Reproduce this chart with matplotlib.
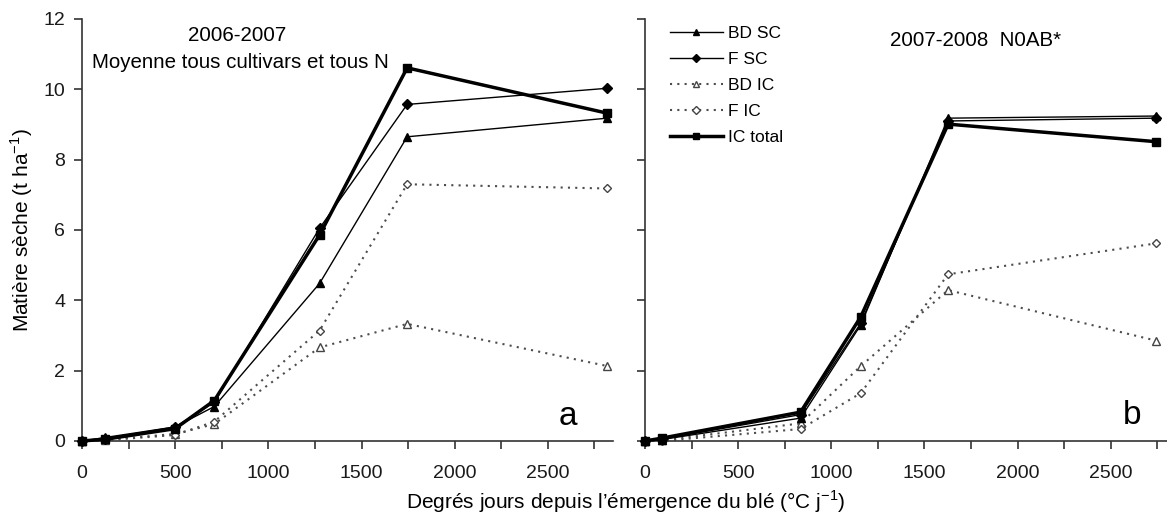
import numpy as np
import matplotlib.pyplot as plt
from matplotlib.ticker import MultipleLocator

plt.rcParams['font.family'] = ['Liberation Sans', 'DejaVu Sans']
plt.rcParams['mathtext.fontset'] = 'custom'
plt.rcParams['mathtext.rm'] = 'Liberation Sans'

# --- Données 2006-2007 (a) ---
x_a = [0, 125, 500, 710, 1275, 1745, 2820]
bd_sc_a = [0, 0.10, 0.40, 0.98, 4.48, 8.65, 9.18]
f_sc_a = [0, 0.07, 0.40, 1.10, 6.05, 9.57, 10.03]
bd_ic_a = [0, 0.03, 0.20, 0.48, 2.66, 3.33, 2.13]
f_ic_a = [0, 0.02, 0.17, 0.55, 3.14, 7.30, 7.18]
ic_total_a = [0, 0.05, 0.35, 1.15, 5.86, 10.61, 9.32]

# --- Données 2007-2008 N0AB* (b) ---
x_b = [0, 90, 835, 1158, 1627, 2745]
bd_sc_b = [0, 0.04, 0.65, 3.30, 9.18, 9.24]
f_sc_b = [0, 0.05, 0.75, 3.35, 9.10, 9.18]
bd_ic_b = [0, 0.02, 0.50, 2.13, 4.29, 2.85]
f_ic_b = [0, 0.00, 0.34, 1.36, 4.74, 5.62]
ic_total_b = [0, 0.08, 0.82, 3.53, 9.01, 8.51]

labels = ['BD SC', 'F SC', 'BD IC', 'F IC', 'IC total']


def draw(ax, x, series):
    styles = [
        dict(color='black', lw=1.0, ls='-', marker='^', ms=6, mfc='black'),
        dict(color='black', lw=1.0, ls='-', marker='D', ms=5, mfc='black'),
        dict(color='#4d4d4d', lw=1.5, ls=(0, (1, 2.5)), marker='^', ms=6, mfc='white', mec='#444444', mew=1.0),
        dict(color='#4d4d4d', lw=1.5, ls=(0, (1, 2.5)), marker='D', ms=4.5, mfc='white', mec='#444444', mew=1.0),
        dict(color='black', lw=2.5, ls='-', marker='s', ms=6, mfc='black'),
    ]
    lines = []
    for y, lab, st, z in zip(series, labels, styles, [3, 3, 2, 2, 4]):
        l, = ax.plot(x, y, label=lab, zorder=z, clip_on=False, **st)
        lines.append(l)
    ax.set_xlim(0, 2850)
    ax.set_ylim(0, 12)
    ax.xaxis.set_major_locator(MultipleLocator(500))
    ax.xaxis.set_minor_locator(MultipleLocator(250))
    ax.yaxis.set_major_locator(MultipleLocator(2))
    for s in ['top', 'right']:
        ax.spines[s].set_visible(False)
    for s in ['left', 'bottom']:
        ax.spines[s].set_color('#333333')
        ax.spines[s].set_linewidth(1.2)
    ax.tick_params(axis='both', which='major', direction='out', length=5.5, width=1.2,
                   color='#333333', labelsize=14, labelcolor='#1a1a1a')
    ax.tick_params(axis='x', which='major', pad=12)
    ax.tick_params(axis='y', which='major', pad=6.5)
    ax.tick_params(axis='x', which='minor', direction='out', length=5.5, width=1.2, color='#333333')
    return lines


fig = plt.figure(figsize=(11.67, 5.13), dpi=100)
ax1 = fig.add_axes([0.0703, 0.1404, 0.455, 0.8226])
ax2 = fig.add_axes([0.5527, 0.1404, 0.455, 0.8226])

draw(ax1, x_a, [bd_sc_a, f_sc_a, bd_ic_a, f_ic_a, ic_total_a])
lines = draw(ax2, x_b, [bd_sc_b, f_sc_b, bd_ic_b, f_ic_b, ic_total_b])
ax2.set_yticklabels([])

ax1.text(0.292, 0.962, '2006-2007', transform=ax1.transAxes, ha='center', va='center', fontsize=14.8)
ax1.text(0.019, 0.896, 'Moyenne tous cultivars et tous N', transform=ax1.transAxes,
         ha='left', va='center', fontsize=14.8)
ax1.text(0.915, 0.038, 'a', transform=ax1.transAxes, ha='center', va='baseline', fontsize=24)

ax2.text(0.623, 0.948, '2007-2008  N0AB*', transform=ax2.transAxes, ha='center', va='center', fontsize=14.8)
ax2.text(0.917, 0.040, 'b', transform=ax2.transAxes, ha='center', va='baseline', fontsize=24)

ax2.legend(handles=lines, loc='upper left', bbox_to_anchor=(0.034, 1.0), frameon=False,
           fontsize=12.5, handlelength=3.05, handletextpad=0.3, labelspacing=0.62,
           borderaxespad=0.0, borderpad=0.4, markerscale=0.8)

fig.text(0.536, 0.008, 'Degrés jours depuis l’émergence du blé (°C j$^{\\mathregular{-1}}$)',
         ha='center', va='baseline', fontsize=15)
fig.text(0.019, 0.552, 'Matière sèche (t ha$^{\\mathregular{-1}}$)', rotation=90,
         ha='center', va='center', fontsize=15)

fig.savefig('out.png', dpi=100)
